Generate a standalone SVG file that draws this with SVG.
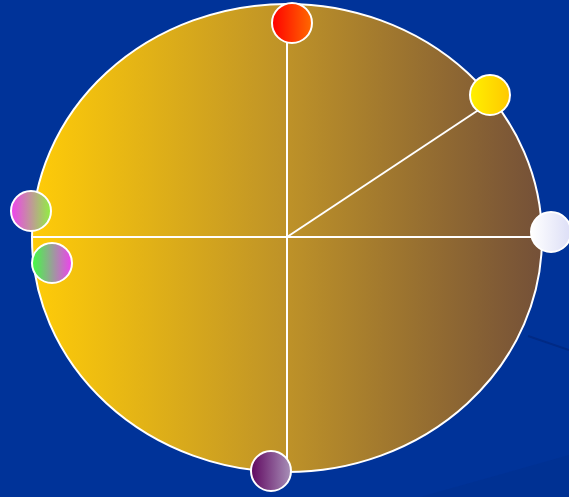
<svg xmlns="http://www.w3.org/2000/svg" width="569" height="497" viewBox="0 0 569 497">
<defs>
<linearGradient id="gBig" x1="0" y1="0" x2="1" y2="0">
<stop offset="0" stop-color="#FFCC08"/>
<stop offset="0.5" stop-color="#BE9228"/>
<stop offset="1" stop-color="#745038"/>
</linearGradient>
<linearGradient id="gRed" x1="0" y1="0" x2="1" y2="0"><stop offset="0" stop-color="#FF0000"/><stop offset="1" stop-color="#FF6A00"/></linearGradient>
<linearGradient id="gYel" x1="0" y1="0" x2="1" y2="0"><stop offset="0" stop-color="#FFF000"/><stop offset="1" stop-color="#FFC800"/></linearGradient>
<linearGradient id="gWhite" x1="0" y1="0" x2="1" y2="0"><stop offset="0" stop-color="#FFFFFF"/><stop offset="1" stop-color="#DCDEF6"/></linearGradient>
<linearGradient id="gPG" x1="0" y1="0" x2="1" y2="0"><stop offset="0" stop-color="#F040F0"/><stop offset="1" stop-color="#90F040"/></linearGradient>
<linearGradient id="gGP" x1="0" y1="0" x2="1" y2="0"><stop offset="0" stop-color="#40FF40"/><stop offset="1" stop-color="#F040F0"/></linearGradient>
<linearGradient id="gPur" x1="0" y1="0" x2="1" y2="0"><stop offset="0" stop-color="#600860"/><stop offset="1" stop-color="#A890B8"/></linearGradient>
</defs>
<style>
.dot{stroke:#FFFFFF;stroke-width:2}
.ln{stroke:#FFFFFF;stroke-width:2;fill:none}
</style>
<rect x="0" y="0" width="569" height="497" fill="#003399"/>
<path d="M420,497 L569,455 L569,497 Z" fill="#003090" opacity="0.6"/>
<line x1="528" y1="336" x2="569" y2="350" stroke="#002A85" stroke-width="2"/>
<g id="wheel">
<ellipse cx="287" cy="238" rx="255" ry="234" fill="url(#gBig)" stroke="#FFFFFF" stroke-width="2"/>
</g>
<g id="connectors">
<line class="ln" x1="287" y1="4" x2="287" y2="472"/>
<line class="ln" x1="31" y1="237" x2="545" y2="237"/>
<line class="ln" x1="287" y1="237" x2="483" y2="107"/>
</g>
<g id="n-red"><circle class="dot" cx="292" cy="23" r="20" fill="url(#gRed)"/></g>
<g id="n-yellow"><circle class="dot" cx="490" cy="95" r="20" fill="url(#gYel)"/></g>
<g id="n-white"><circle class="dot" cx="551" cy="232" r="20" fill="url(#gWhite)"/></g>
<g id="n-pinkgreen"><circle class="dot" cx="31" cy="211" r="20" fill="url(#gPG)"/></g>
<g id="n-greenpink"><circle class="dot" cx="52" cy="263" r="20" fill="url(#gGP)"/></g>
<g id="n-purple"><circle class="dot" cx="271" cy="471" r="20" fill="url(#gPur)"/></g>
</svg>
